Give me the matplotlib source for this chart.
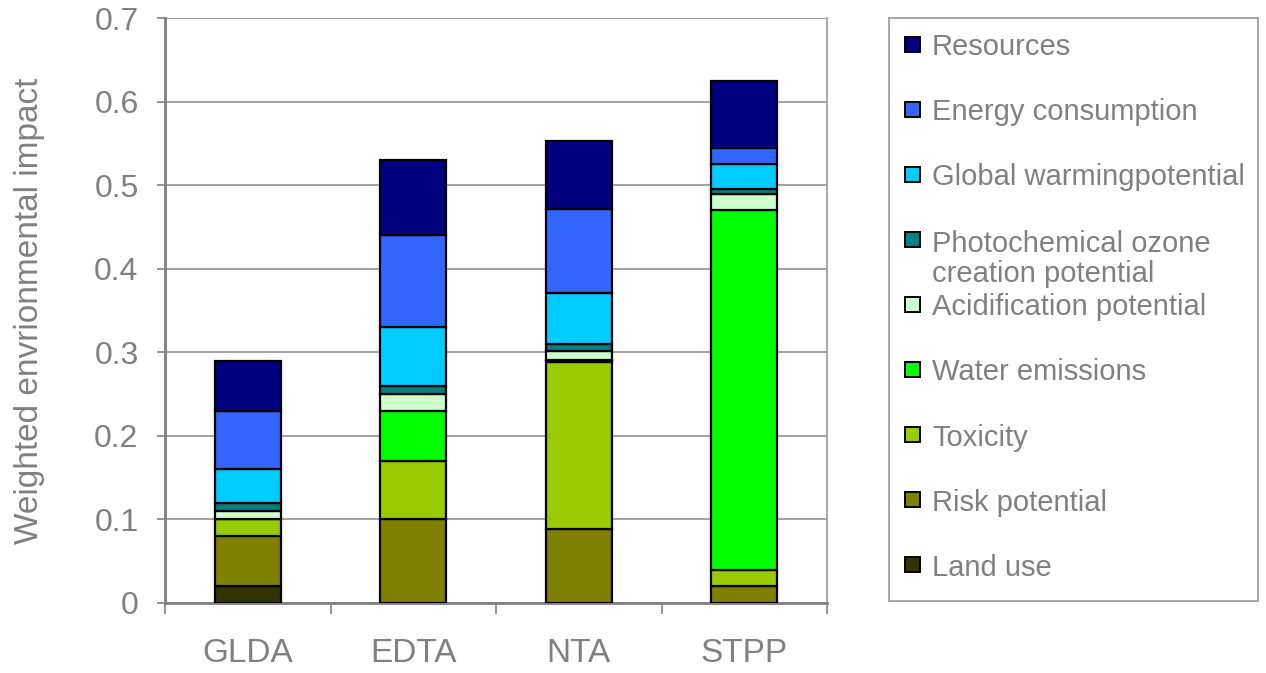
import numpy as np
import matplotlib.pyplot as plt
from matplotlib.patches import Rectangle

plt.rcParams['font.family'] = ['Liberation Sans', 'DejaVu Sans']

# Agentes quelantes y contribucion de cada categoria de impacto
agentes = ["GLDA", "EDTA", "NTA", "STPP"]
categorias = ["Land use", "Risk potential", "Toxicity", "Water emissions",
              "Acidification potential", "Photochemical ozone\ncreation potential",
              "Global warmingpotential", "Energy consumption", "Resources"]
colores = ["#333300", "#808000", "#99CC00", "#00FF00", "#CCFFCC",
           "#008080", "#00CCFF", "#3366FF", "#000080"]

land_use      = [0.020, 0.000, 0.000, 0.000]
riesgo        = [0.060, 0.100, 0.089, 0.020]
toxicidad     = [0.020, 0.070, 0.199, 0.020]
agua          = [0.000, 0.060, 0.003, 0.430]
acidificacion = [0.010, 0.020, 0.011, 0.020]
fotoquimico   = [0.010, 0.010, 0.008, 0.005]
calentamiento = [0.040, 0.070, 0.061, 0.030]
energia       = [0.070, 0.110, 0.100, 0.020]
recursos      = [0.060, 0.090, 0.082, 0.080]

series = [land_use, riesgo, toxicidad, agua, acidificacion,
          fotoquimico, calentamiento, energia, recursos]

gris = "#808080"
W, H = 1266, 673
fig = plt.figure(figsize=(W / 100, H / 100), dpi=100)
ax = fig.add_axes([165 / W, 1 - 603 / H, (827 - 165) / W, (603 - 18) / H])

x = np.arange(len(agentes))
base = np.zeros(len(agentes))
for valores, color in zip(series, colores):
    v = np.array(valores)
    ax.bar(x, v, width=0.4, bottom=base, color=color, edgecolor="black",
           linewidth=1.6, zorder=3)
    base += v

ax.set_xlim(-0.5, 3.5)
ax.set_ylim(0, 0.7)
ax.set_yticks(np.arange(0, 0.71, 0.1))
ax.set_yticklabels(["0", "0.1", "0.2", "0.3", "0.4", "0.5", "0.6", "0.7"])
ax.set_xticks(x)
ax.set_xticklabels(agentes)
ax.set_xticks(np.arange(-0.5, 3.6, 1), minor=True)
ax.tick_params(axis="x", which="major", length=0, pad=25, labelsize=24, labelcolor=gris)
ax.tick_params(axis="x", which="minor", length=8, width=1.2, color=gris, direction="out")
ax.tick_params(axis="y", length=6, width=1.2, color=gris, labelsize=23,
               labelcolor=gris, pad=13)

ax.grid(axis="y", color="#9a9a9a", linewidth=1.3, zorder=0)
for lado in ["left", "bottom"]:
    ax.spines[lado].set_color(gris)
    ax.spines[lado].set_linewidth(2)
ax.spines["right"].set_color("#a0a0a0")
ax.spines["right"].set_linewidth(1.3)
ax.spines["top"].set_visible(False)

ax.set_ylabel("Weighted envrionmental impact", fontsize=24, color=gris)
ax.yaxis.set_label_coords(-0.181, 0.5)

# Leyenda dibujada a mano en su propio recuadro
leg = fig.add_axes([889 / W, 1 - 601 / H, (1258 - 889) / W, (601 - 18) / H])
leg.set_xlim(889, 1258)
leg.set_ylim(601, 18)
leg.set_xticks([])
leg.set_yticks([])
for s in leg.spines.values():
    s.set_color("#a0a0a0")
    s.set_linewidth(1.3)

for i, (nombre, color) in enumerate(zip(categorias[::-1], colores[::-1])):
    yc = 44 + i * 65.1
    lineas = nombre.count("\n")
    leg.add_patch(Rectangle((905, yc - 7.5), 15, 15, facecolor=color,
                            edgecolor="black", linewidth=1.4))
    leg.text(932, yc + 11 + 32 * lineas, nombre, fontsize=21, color=gris,
             va="baseline", ha="left", linespacing=1.1)

fig.savefig("out.png", dpi=100)
